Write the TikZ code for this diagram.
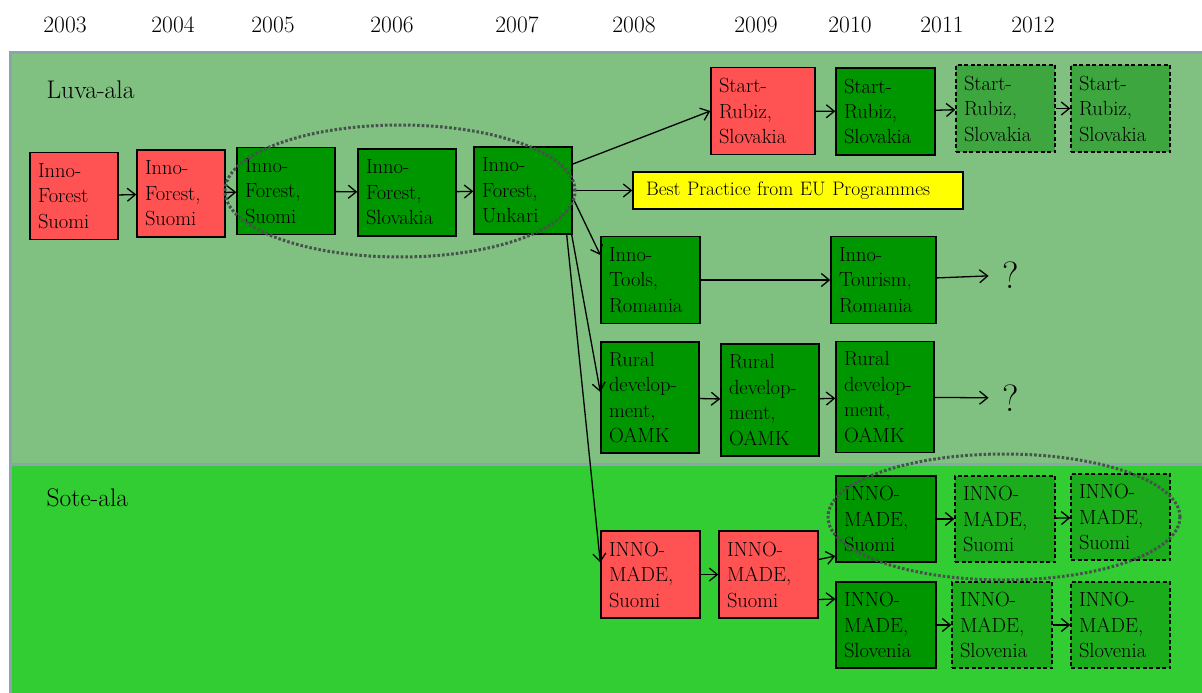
\documentclass[tikz,border=0pt]{standalone}
\usepackage{fontspec}
\usetikzlibrary{arrows.meta, positioning}

\definecolor{luvabg}{RGB}{128,192,128}
\definecolor{sotebg}{RGB}{50,205,50}
\definecolor{bandline}{RGB}{140,165,172}
\definecolor{projred}{RGB}{255,82,82}
\definecolor{projgreen}{RGB}{0,150,0}
\definecolor{planluva}{RGB}{62,166,62}
\definecolor{plansote}{RGB}{26,172,26}
\definecolor{bestyellow}{RGB}{255,255,0}
\definecolor{ringgray}{RGB}{70,82,76}

\begin{document}
\begin{tikzpicture}[x=1pt, y=-1pt,
    box/.style={draw, line width=1.4pt, rectangle, minimum height=87pt,
      text width=82pt, inner xsep=8pt, inner ysep=0pt, align=left,
      font=\fontsize{20.5}{25.5}\selectfont},
    oldbox/.style={box, fill=projred},
    runbox/.style={box, fill=projgreen},
    planbox/.style={box, fill=planluva, dash pattern=on 4pt off 2.5pt},
    sotebox/.style={planbox, fill=plansote},
    conn/.style={-{Straight Barb[length=8pt,width=13pt]}, line width=1.3pt},
    ring/.style={ringgray, line width=3pt, dash pattern=on 2.6pt off 2pt},
    year/.style={font=\fontsize{23.5}{26}\selectfont},
    area/.style={anchor=base west, font=\fontsize{25.5}{30}\selectfont},
    qmark/.style={font=\fontsize{38}{40}\selectfont, inner xsep=14pt}]
  \useasboundingbox (0,0) rectangle (1202,693);

  % the two fields
  \draw[bandline, line width=3pt, fill=luvabg] (10,53) rectangle (1206,464);
  \draw[bandline, line width=3pt, fill=sotebg] (10,464) rectangle (1206,697);
  \node[area] (luva) at (43,98) {Luva-ala};
  \node[area] (sote) at (43,506) {Sote-ala};

  % years
  \foreach \yr/\xx in {2003/65, 2004/173, 2005/273, 2006/392, 2007/517,
                       2008/634, 2009/756, 2010/850, 2011/942, 2012/1033}
    \node[year] (y\yr) at (\xx,24.5) {\yr};

  % Inno-Forest
  \node[oldbox, text width=72pt] (b1) at (74,196) {Inno-\\Forest\\Suomi};
  \node[oldbox, text width=72pt] (b2) at (181,193.5) {Inno-\\Forest,\\Suomi};
  \node[runbox] (b3) at (286,191) {Inno-\\Forest,\\Suomi};
  \node[runbox] (b4) at (407,192.5) {Inno-\\Forest,\\Slovakia};
  \node[runbox] (b5) at (523,190.5) {Inno-\\Forest,\\Unkari};

  % Start-Rubiz
  \node[oldbox, text width=88pt] (sr1) at (763,111) {Start-\\Rubiz,\\Slovakia};
  \node[runbox, text width=83pt] (sr2) at (885.5,111.5) {Start-\\Rubiz,\\Slovakia};
  \node[planbox, text width=83pt] (sr3) at (1005.5,108.5) {Start-\\Rubiz,\\Slovakia};
  \node[planbox, text width=83pt] (sr4) at (1120.5,108.5) {Start-\\Rubiz,\\Slovakia};

  \node[draw, line width=1.4pt, fill=bestyellow, minimum height=37pt, text width=304pt,
    inner xsep=13pt, inner ysep=0pt, align=left, font=\fontsize{19.5}{24}\selectfont]
    (bp) at (798,190.5) {Best Practice from EU Programmes};

  % Inno-Tools / Inno-Tourism
  \node[runbox, text width=83pt] (it) at (650.5,280) {Inno-\\Tools,\\Romania};
  \node[runbox, text width=89pt] (ito) at (883.5,280) {Inno-\\Tourism,\\Romania};
  \node[qmark] (q1) at (1011,275) {?};

  % Rural development
  \node[runbox, minimum height=111pt] (rd1) at (650,397.5) {Rural\\develop-\\ment,\\OAMK};
  \node[runbox, minimum height=112pt] (rd2) at (770,400) {Rural\\develop-\\ment,\\OAMK};
  \node[runbox, minimum height=111pt] (rd3) at (885,397) {Rural\\develop-\\ment,\\OAMK};
  \node[qmark] (q2) at (1011,398) {?};

  % INNO-MADE
  \node[oldbox, text width=83pt] (im1) at (650.5,574.5) {INNO-\\MADE,\\Suomi};
  \node[oldbox, text width=83pt] (im2) at (768.5,574.5) {INNO-\\MADE,\\Suomi};
  \node[runbox, text width=84pt, minimum height=86pt] (im3) at (886,519) {INNO-\\MADE,\\Suomi};
  \node[sotebox, text width=84pt, minimum height=86pt] (im4) at (1005,519) {INNO-\\MADE,\\Suomi};
  \node[sotebox, text width=83pt, minimum height=86pt] (im5) at (1120.5,517) {INNO-\\MADE,\\Suomi};
  \node[runbox, text width=84pt, minimum height=86pt] (im6) at (886,625) {INNO-\\MADE,\\Slovenia};
  \node[sotebox, text width=84pt, minimum height=86pt] (im7) at (1002,625) {INNO-\\MADE,\\Slovenia};
  \node[sotebox, text width=83pt, minimum height=86pt] (im8) at (1120.5,625) {INNO-\\MADE,\\Slovenia};

  % connectors
  \draw[conn] (b1) -- (b2);
  \draw[conn] (b2) -- (b3);
  \draw[conn] (b3) -- (b4);
  \draw[conn] (b4) -- (b5);
  \draw[conn] (b5.28) -- (sr1.west);
  \draw[conn] (b5) -- (bp);
  \draw[conn] ([yshift=-7pt]b5.east) -- ([yshift=25pt]it.west);
  \draw[conn] ([xshift=-1pt]b5.south east) -- ([yshift=5.5pt]rd1.west);
  \draw[conn] ([xshift=-6pt]b5.south east) -- ([yshift=12pt]im1.west);

  \draw[conn] (sr1) -- (sr2);
  \draw[conn] (sr2) -- (sr3);
  \draw[conn] (sr3) -- (sr4);

  \draw[conn] (it) -- (ito);
  \draw[conn] (ito) -- (q1);

  \draw[conn] (rd1) -- (rd2);
  \draw[conn] (rd2) -- (rd3);
  \draw[conn] (rd3) -- (q2);

  \draw[conn] (im1) -- (im2);
  \draw[conn] ([yshift=15pt]im2.east) -- ([yshift=-37pt]im3.west);
  \draw[conn] ([yshift=-25pt]im2.east) -- ([yshift=26pt]im6.west);
  \draw[conn] (im3) -- (im4);
  \draw[conn] (im4) -- (im5);
  \draw[conn] (im6) -- (im7);
  \draw[conn] (im7) -- (im8);

  % dotted groupings
  \draw[ring] (400,191) ellipse [x radius=175pt, y radius=66pt];
  \draw[ring] (1004,517) ellipse [x radius=176pt, y radius=63pt];
\end{tikzpicture}
\end{document}
